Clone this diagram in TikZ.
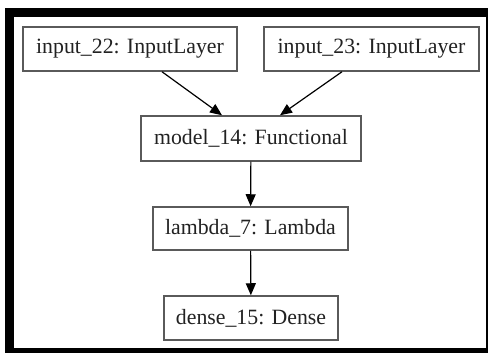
\documentclass[tikz,border=0pt]{standalone}
\usepackage{fontspec}
\setmainfont{Liberation Serif}
\usetikzlibrary{arrows.meta,positioning}
\definecolor{kerasEdge}{HTML}{5a5a5a}
\definecolor{kerasText}{HTML}{222222}
\tikzset{
  >={Triangle[length=6pt,width=5pt]},
  layer/.style={draw=kerasEdge, line width=0.75pt, fill=white, text=kerasText,
                minimum height=22pt, inner sep=2pt,
                font=\fontsize{10.9}{13}\selectfont},
  flow/.style={->, draw=black, line width=0.6pt},
}
\begin{document}
\begin{tikzpicture}[x=0.5pt,y=-0.5pt]
  \useasboundingbox (0,0) rectangle (488,353);
  % frame
  \fill[black] (5,8) rectangle (488,353);
  \fill[white] (14,17) rectangle (486,348);
  % layers
  \node[layer,minimum width=107pt] (in22)  at (130,49)    {input\_22: InputLayer};
  \node[layer,minimum width=107.5pt] (in23) at (371.5,49) {input\_23: InputLayer};
  \node[layer,minimum width=110pt,minimum height=22.5pt] (model) at (251,138.5) {model\_14: Functional};
  \node[layer,minimum width=97.5pt,minimum height=21.5pt] (lambda) at (250.5,228.5) {lambda\_7: Lambda};
  \node[layer,minimum width=87pt] (dense) at (251,318) {dense\_15: Dense};
  % edges
  \draw[flow] ([xshift=16pt]in22.south) -- ([xshift=-14.5pt]model.north);
  \draw[flow] ([xshift=-14.75pt]in23.south) -- ([xshift=14.5pt]model.north);
  \draw[flow] (model) -- (lambda);
  \draw[flow] (lambda) -- (dense);
\end{tikzpicture}
\end{document}
